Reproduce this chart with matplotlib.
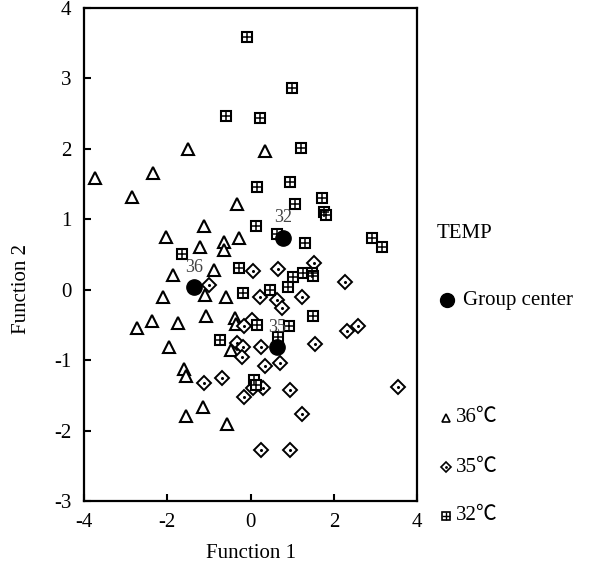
import matplotlib
matplotlib.use("Agg")
import matplotlib.pyplot as plt
from matplotlib.lines import Line2D

plt.rcParams["font.family"] = ["Liberation Serif", "Noto Sans CJK SC"]
plt.rcParams["axes.unicode_minus"] = False

# ── data ────────────────────────────────────────────────────────────────────
t36_x = [-3.74, -2.85, -2.34, -1.50, 0.35, -0.32, -2.03, -1.12, -1.21, -0.64,
         -0.64, -0.28, -1.86, -0.88, -2.10, -1.09, -0.59, -2.73, -2.37, -1.74,
         -1.07, -0.37, -0.35, -1.96, -1.60, -1.55, -1.14, -1.55, -0.56, -0.47]
t36_y = [1.59, 1.32, 1.66, 2.00, 1.97, 1.21, 0.75, 0.91, 0.61, 0.68,
         0.57, 0.74, 0.21, 0.28, -0.11, -0.07, -0.11, -0.55, -0.45, -0.47,
         -0.38, -0.40, -0.48, -0.81, -1.13, -1.23, -1.66, -1.79, -1.90, -0.85]

t35_x = [-1.00, 0.06, 0.66, 1.53, 0.23, 0.64, 1.24, 2.27, 0.76, 0.04,
         -0.16, -0.32, -0.18, -0.20, 0.25, -0.69, -1.12, 0.35, 0.71, 0.30,
         0.06, -0.16, 0.95, 1.24, 0.25, 0.95, 1.55, 2.32, 2.58, 3.55]
t35_y = [0.07, 0.26, 0.30, 0.38, -0.10, -0.14, -0.11, 0.11, -0.26, -0.43,
         -0.52, -0.75, -0.81, -0.95, -0.81, -1.26, -1.32, -1.08, -1.04, -1.40,
         -1.39, -1.53, -1.43, -1.77, -2.28, -2.28, -0.77, -0.58, -0.52, -1.38]

t32_x = [-0.08, 1.00, -0.59, 0.23, 1.21, 0.16, 0.95, 1.07, 0.13, 0.64,
         1.31, 1.72, 1.77, 1.81, 2.92, 3.16, -1.65, -0.28, 0.47, -0.18,
         1.02, 1.26, 1.48, 0.90, 1.50, 1.50, 0.93, 0.16, -0.73, 0.66,
         0.08, 0.13]
t32_y = [3.59, 2.87, 2.47, 2.44, 2.01, 1.46, 1.53, 1.22, 0.91, 0.79,
         0.67, 1.30, 1.11, 1.06, 0.74, 0.60, 0.51, 0.31, 0.00, -0.04,
         0.18, 0.24, 0.24, 0.04, 0.20, -0.37, -0.51, -0.50, -0.71, -0.67,
         -1.28, -1.35]

center_labels = ["32", "36", "35"]
center_x = [0.78, -1.36, 0.64]
center_y = [0.74, 0.04, -0.81]

legend_labels = ["36℃", "35℃", "32℃"]

# ── figure ──────────────────────────────────────────────────────────────────
fig = plt.figure(figsize=(5.91, 5.71), dpi=100)
ax = fig.add_axes([0.142, 0.1226, 0.564, 0.8634])

tri = dict(marker="^", ms=8.5, mfc="white", mec="black", mew=1.5, ls="none")
dia = dict(marker="D", ms=7, mfc="white", mec="black", mew=1.4, ls="none")
sq = dict(marker="s", ms=7, mfc="white", mec="black", mew=1.5, ls="none")

ax.plot(t36_x, t36_y, **tri)
ax.plot(t35_x, t35_y, **dia)
ax.plot(t35_x, t35_y, ls="none", marker="o", ms=1.2, color="black")
ax.plot(t32_x, t32_y, **sq)
ax.plot(t32_x, t32_y, ls="none", marker="+", ms=7, mew=1.1, color="black")

ax.plot(center_x, center_y, ls="none", marker="o", ms=11, color="black", zorder=5)
for lab, cx, cy in zip(center_labels, center_x, center_y):
    ax.annotate(lab, (cx, cy), xytext=(0, 8), textcoords="offset points",
                ha="center", va="bottom", fontsize=13, color="#444444", zorder=6)

ax.set_xlim(-4, 4)
ax.set_ylim(-3, 4)
ax.set_xticks([-4, -2, 0, 2, 4])
ax.set_yticks(range(-3, 5))
ax.tick_params(direction="in", length=5, width=1.5, labelsize=15, pad=9)
for sp in ax.spines.values():
    sp.set_linewidth(1.6)
ax.set_xlabel("Function 1", fontsize=15)
ax.set_ylabel("Function 2", fontsize=15)
ax.xaxis.set_label_coords(0.5, -0.088)
ax.yaxis.set_label_coords(-0.158, 0.43)

# ── legend drawn by hand at the right ───────────────────────────────────────
W, H = 591, 571


def fx(px):
    return px / W


def fy(py):
    return 1 - py / H


fig.text(fx(437), fy(234), "TEMP", fontsize=15, va="center", ha="left")
fig.add_artist(Line2D([fx(447)], [fy(300)], marker="o", ms=10, color="black",
                      transform=fig.transFigure))
fig.text(fx(463), fy(300), "Group center", fontsize=15, va="center", ha="left")

leg_y = [418, 467, 516]
leg_styles = [
    dict(marker="^", ms=6, mfc="white", mec="black", mew=1.2),
    dict(marker="D", ms=5, mfc="white", mec="black", mew=1.2),
    dict(marker="s", ms=5.5, mfc="white", mec="black", mew=1.2),
]
for lab, py, st in zip(legend_labels, leg_y, leg_styles):
    fig.add_artist(Line2D([fx(446)], [fy(py)], transform=fig.transFigure, **st))
    fig.text(fx(456), fy(py), lab, fontsize=15, va="center", ha="left")
fig.add_artist(Line2D([fx(446)], [fy(467)], marker="o", ms=1, color="black",
                      transform=fig.transFigure))
fig.add_artist(Line2D([fx(446)], [fy(516)], marker="+", ms=5.5, mew=1,
                      color="black", transform=fig.transFigure))

fig.savefig("out.png", dpi=100)
